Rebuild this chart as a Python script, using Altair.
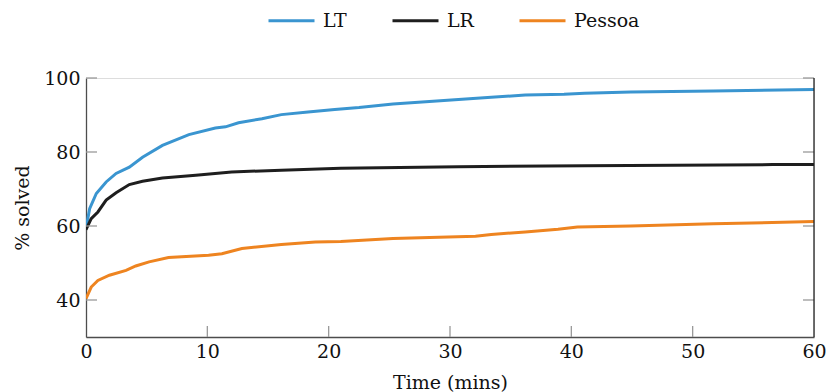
import altair as alt
import pandas as pd

# ---- data ----
lt_t = [0, 0.3, 0.85, 1.66, 2.48, 3.57, 4.66, 6.3, 8.48, 10.66, 11.5, 12.57, 14.5, 16.1,
        18.3, 20.5, 22.5, 25.3, 28, 30.7, 33.4, 36.2, 39.4, 41.1, 44.9, 51.7, 60]
lt_v = [59.3, 64.7, 68.8, 71.9, 74.2, 75.9, 78.6, 81.8, 84.7, 86.5, 86.8, 87.9, 89.0, 90.1,
        90.8, 91.5, 92.0, 93.0, 93.6, 94.2, 94.8, 95.4, 95.6, 95.9, 96.2, 96.5, 96.9]

lr_t = [0, 0.43, 0.98, 1.66, 2.48, 3.57, 4.66, 6.3, 9.05, 12.0, 16.1, 21.0, 30.7, 41.1, 56.6, 60]
lr_v = [59.0, 62.0, 63.8, 67.0, 69.0, 71.2, 72.1, 73.0, 73.7, 74.6, 75.1, 75.6, 76.0, 76.3, 76.6, 76.6]

pe_t = [0, 0.43, 0.98, 1.93, 3.3, 4.1, 5.2, 6.8, 10.1, 11.2, 12.85, 16.1, 18.9, 21.0, 25.3,
        32.1, 33.4, 36.2, 38.9, 40.5, 44.9, 51.7, 60]
pe_v = [40.4, 43.5, 45.3, 46.7, 48.0, 49.2, 50.3, 51.5, 52.1, 52.5, 53.9, 55.0, 55.7, 55.8, 56.6,
        57.2, 57.7, 58.4, 59.1, 59.7, 60.0, 60.6, 61.2]

series_names = ["LT", "LR", "Pessoa"]
series_colors = ["#3A95D0", "#1E1E1E", "#EE8420"]

x_ticks = [0, 10, 20, 30, 40, 50, 60]
y_ticks = [40, 60, 80, 100]
x_inner_ticks = [10, 20, 30, 40, 50]

FONT = "DejaVu Serif"
FS = 19
W, H = 728, 259

rows = []
for name, ts, vs in [("LT", lt_t, lt_v), ("LR", lr_t, lr_v), ("Pessoa", pe_t, pe_v)]:
    for t, v in zip(ts, vs):
        rows.append({"series": name, "time": t, "solved": v})
df = pd.DataFrame(rows)

xscale = alt.Scale(domain=[0, 60], nice=False, zero=False)
yscale = alt.Scale(domain=[30, 100], nice=False, zero=False)

x_axis = alt.Axis(values=x_ticks, title="Time (mins)", grid=False, ticks=False,
                  domainColor="#4d4d4d", domainWidth=1.3, labelPadding=5, labelFlush=False,
                  titleY=36, titleBaseline="top")
y_axis = alt.Axis(values=y_ticks, title="% solved", grid=False, ticks=False,
                  domainColor="#4d4d4d", domainWidth=1.3, labelPadding=6, labelFlush=False,
                  titleX=-64, titleY=129.5, titleAngle=-90, titleBaseline="middle",
                  titleAlign="center")

lines = alt.Chart(df).mark_line(strokeWidth=3, clip=True).encode(
    x=alt.X("time:Q", scale=xscale, axis=x_axis),
    y=alt.Y("solved:Q", scale=yscale, axis=y_axis),
    color=alt.Color("series:N",
                    scale=alt.Scale(domain=series_names, range=series_colors),
                    sort=series_names,
                    legend=alt.Legend(
                        title=None, orient="none", direction="horizontal",
                        legendX=181, legendY=-82,
                        symbolType="stroke", symbolSize=2116, symbolStrokeWidth=3,
                        labelOffset=7, columnPadding=39)),
    order=alt.Order("time:Q"),
)

ytick_df = pd.DataFrame({"solved": y_ticks})
xtick_df = pd.DataFrame({"time": x_inner_ticks})

left_ticks = alt.Chart(ytick_df).mark_rule(color="#999999", strokeWidth=1.3).encode(
    y=alt.Y("solved:Q", scale=yscale, axis=y_axis), x=alt.value(0), x2=alt.value(11))
right_ticks = alt.Chart(ytick_df).mark_rule(color="#999999", strokeWidth=1.3).encode(
    y=alt.Y("solved:Q", scale=yscale, axis=y_axis), x=alt.value(W - 11), x2=alt.value(W))
bottom_ticks = alt.Chart(xtick_df).mark_rule(color="#999999", strokeWidth=1.3).encode(
    x=alt.X("time:Q", scale=xscale, axis=x_axis), y=alt.value(H), y2=alt.value(H - 11))
right_line = alt.Chart(ytick_df.head(1)).mark_rule(color="#222222", strokeWidth=1.3).encode(
    x=alt.value(W), y=alt.value(0), y2=alt.value(H))

chart = alt.layer(lines, left_ticks, right_ticks, bottom_ticks, right_line).properties(
    width=W, height=H,
    autosize=alt.AutoSizeParams(type="none"),
    padding={"left": 78, "top": 70, "right": 12, "bottom": 60},
).configure_view(stroke=None).configure(
    background="white", font=FONT
).configure_axis(
    labelFont=FONT, labelFontSize=FS, labelColor="#111",
    titleFont=FONT, titleFontSize=FS, titleFontWeight="normal", titleColor="#111",
).configure_legend(
    labelFont=FONT, labelFontSize=FS, labelColor="#111",
)

chart.save("out.html", embed_options={"renderer": "svg", "actions": False})
